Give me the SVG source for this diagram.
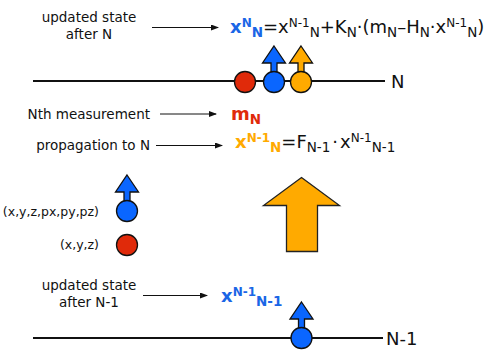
<svg xmlns="http://www.w3.org/2000/svg" width="498" height="359" viewBox="0 0 498 359">
<defs>
<style>
text{font-family:"DejaVu Sans","Liberation Sans",sans-serif;fill:#111}
.lbl{font-size:13.5px}
.sm{font-size:12.5px}
.eq{font-size:18px}
.sup{font-size:12px}
.sub{font-size:13.5px}
.b{font-weight:bold}
.blue{fill:#1a66e6}
.orange{fill:#ffaa00}
.red{fill:#e02a0a}
.line{stroke:#111;stroke-width:2;fill:none}
.conn{stroke:#111;stroke-width:1;fill:none;marker-end:url(#ah)}
.cb{fill:#0a66ff;stroke:#111;stroke-width:1.3}
.cr{fill:#e02a0a;stroke:#111;stroke-width:1.3}
.co{fill:#ffaa00;stroke:#111;stroke-width:1.3}
</style>
<marker id="ah" markerWidth="8" markerHeight="6" refX="7" refY="3" orient="auto" markerUnits="userSpaceOnUse">
<path d="M0,0 L8,3 L0,6 z" fill="#111"/>
</marker>
<path id="sa" d="M0,-36 L11.5,-19 L3,-19 L3,-10 L-3,-10 L-3,-19 L-11.5,-19 z"/>
</defs>

<g id="track-N">
<line class="line" x1="33" y1="81" x2="385" y2="81"/>
<text x="391" y="88" style="font-size:18px">N</text>
</g>
<g id="track-N-1">
<line class="line" x1="33" y1="338" x2="383" y2="338"/>
<text x="386" y="345" style="font-size:18px">N-1</text>
</g>

<g id="state-N-red"><circle class="cr" cx="245" cy="82" r="10.5"/></g>
<g id="state-N-blue">
<use href="#sa" x="274" y="82" class="cb"/>
<circle class="cb" cx="274" cy="82" r="10.5"/>
</g>
<g id="state-N-orange">
<use href="#sa" x="301" y="82" class="co"/>
<circle class="co" cx="301" cy="82" r="10.5"/>
</g>
<g id="state-N-1-blue">
<use href="#sa" x="301.5" y="338" class="cb"/>
<circle class="cb" cx="301.5" cy="338" r="10.5"/>
</g>

<g id="legend-blue">
<use href="#sa" x="127" y="211" class="cb"/>
<circle class="cb" cx="127" cy="211" r="10.5"/>
<text class="sm" x="99" y="216" text-anchor="end">(x,y,z,px,py,pz)</text>
</g>
<g id="legend-red">
<circle class="cr" cx="127" cy="245" r="10.5"/>
<text class="sm" x="99" y="249" text-anchor="end">(x,y,z)</text>
</g>

<g id="big-arrow">
<path d="M301.5,177.5 L339.5,205.5 L317.5,205.5 L317.5,251.5 L286.5,251.5 L286.5,205.5 L263.5,205.5 z" fill="#ffaa00" stroke="#222" stroke-width="1.3"/>
</g>

<g id="label-updated-N">
<text class="lbl" x="89" y="22" text-anchor="middle">updated state</text>
<text class="lbl" x="89" y="39" text-anchor="middle">after N</text>
</g>
<g id="label-measure"><text class="lbl" x="150" y="119" text-anchor="end">Nth measurement</text></g>
<g id="label-prop"><text class="lbl" x="150" y="150" text-anchor="end">propagation to N</text></g>
<g id="label-updated-N-1">
<text class="lbl" x="89" y="290" text-anchor="middle">updated state</text>
<text class="lbl" x="89" y="307" text-anchor="middle">after N-1</text>
</g>

<g id="eq-update">
<text class="eq" x="230" y="33"><tspan class="b blue">x</tspan><tspan class="sup b blue" dy="-6.5">N</tspan><tspan class="sub b blue" dy="10">N</tspan><tspan dy="-3.5">=x</tspan><tspan class="sup" dy="-6.5">N-1</tspan><tspan class="sub" dy="10">N</tspan><tspan dy="-3.5">+K</tspan><tspan class="sub" dy="3.5">N</tspan><tspan dy="-3.5">·(m</tspan><tspan class="sub" dy="3.5">N</tspan><tspan dy="-3.5">–H</tspan><tspan class="sub" dy="3.5">N</tspan><tspan dy="-3.5">·x</tspan><tspan class="sup" dy="-6.5">N-1</tspan><tspan class="sub" dy="10">N</tspan><tspan dy="-3.5">)</tspan></text>
</g>
<g id="eq-measure">
<text class="eq b red" x="231" y="120">m<tspan class="sub" dy="3.5">N</tspan></text>
</g>
<g id="eq-prop">
<text class="eq" x="235" y="148"><tspan class="b orange">x</tspan><tspan class="sup b orange" dy="-6.5">N-1</tspan><tspan class="sub b orange" dy="10">N</tspan><tspan dy="-3.5">=F</tspan><tspan class="sub" dy="3.5">N-1</tspan><tspan dy="-3.5" dx="2">·</tspan><tspan dx="2">x</tspan><tspan class="sup" dy="-6.5">N-1</tspan><tspan class="sub" dy="10">N-1</tspan></text>
</g>
<g id="eq-prev">
<text class="eq b blue" x="221" y="302">x<tspan class="sup" dy="-6.5">N-1</tspan><tspan class="sub" dy="10">N-1</tspan></text>
</g>

<g id="connectors">
<line class="conn" x1="152" y1="27.5" x2="218" y2="27.5"/>
<line class="conn" x1="160" y1="114" x2="216" y2="114"/>
<line class="conn" x1="156" y1="145.5" x2="222" y2="145.5"/>
<line class="conn" x1="143" y1="295.5" x2="207" y2="295.5"/>
</g>
</svg>
